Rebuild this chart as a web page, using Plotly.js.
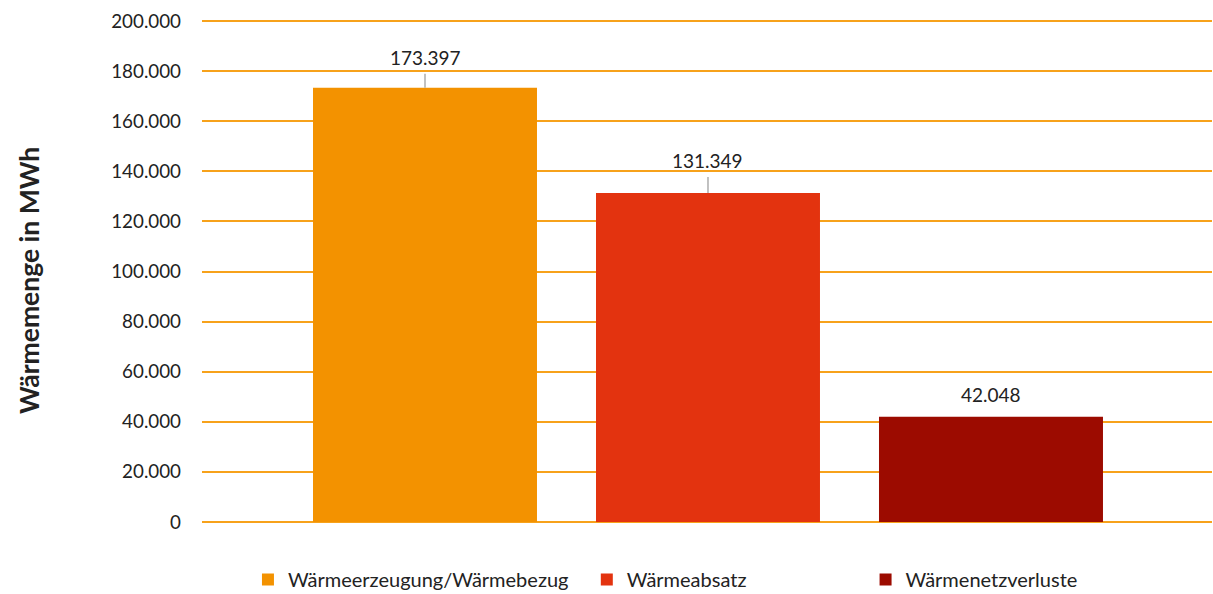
<!DOCTYPE html>
<html>
<head>
<meta charset="utf-8">
<script src="https://cdn.plot.ly/plotly-3.0.1.min.js"></script>
<style>html,body{margin:0;padding:0;background:#fff;}#chart{width:1213px;height:594px;}</style>
</head>
<body>
<div id="chart"></div>
<script>
// ---- data ----
var categories = ["Wärmeerzeugung/Wärmebezug", "Wärmeabsatz", "Wärmenetzverluste"];
var values = [173397, 131349, 42048];
var yTickValues = [0, 20000, 40000, 60000, 80000, 100000, 120000, 140000, 160000, 180000, 200000];
var yAxisTitle = "Wärmemenge in MWh";

// ---- style ----
var colors = ["#F39200", "#E3330F", "#9C0B00"];
var labelShift = [30, 32, 22];      // px above bar top
var labelLeader = [true, true, false];
var legendIds = ["legend", "legend2", "legend3"];
var legendX = [0.0455, 0.381, 0.657];
var FONT = "Lato, 'Open Sans', sans-serif";
var GRID = "#F7A21B";

function fmt(v) {
  var s = Math.round(v).toString();
  return s.replace(/\B(?=(\d{3})+(?!\d))/g, ".");
}

var traces = categories.map(function (c, i) {
  return {
    type: "bar",
    name: c,
    x: [c],
    y: [values[i]],
    width: 0.7915,
    legend: legendIds[i],
    marker: { color: colors[i], line: { width: 0 } },
    hoverinfo: "name+y"
  };
});

var annotations = categories.map(function (c, i) {
  var a = {
    x: c, y: values[i], xref: "x", yref: "y",
    text: fmt(values[i]),
    font: { family: FONT, size: 19, color: "#222" }
  };
  if (labelLeader[i]) {
    a.showarrow = true; a.arrowhead = 0; a.arrowwidth = 1.3; a.arrowcolor = "#a0a0a0";
    a.ax = 0; a.ay = -labelShift[i]; a.standoff = 0; a.borderpad = 4;
  } else {
    a.showarrow = false; a.yanchor = "middle"; a.yshift = labelShift[i];
  }
  return a;
});

annotations.push({
  xref: "paper", yref: "paper",
  x: -173 / 1010, y: 0.5 - 9.5 / 505,
  xanchor: "center", yanchor: "middle",
  textangle: -90, showarrow: false,
  text: "<b>" + yAxisTitle + "</b>",
  font: { family: FONT, size: 26.5, color: "#222" }
});

var layout = {
  width: 1213, height: 594,
  margin: { l: 202, r: 1, t: 19, b: 70, autoexpand: false },
  paper_bgcolor: "#fff", plot_bgcolor: "#fff",
  barmode: "overlay",
  showlegend: true,
  font: { family: FONT, size: 19, color: "#222" },
  xaxis: {
    type: "category",
    range: [-0.788, 2.781],
    showticklabels: false, showgrid: false, zeroline: false, showline: false, ticks: ""
  },
  yaxis: {
    range: [-798.4, 200798.4],
    tickmode: "array",
    tickvals: yTickValues,
    ticktext: yTickValues.map(fmt),
    showgrid: true, gridcolor: GRID, gridwidth: 2,
    zeroline: false, showline: false, ticks: "",
    ticklabelstandoff: 20,
    tickfont: { family: FONT, size: 18.8, color: "#222" },
    automargin: false
  },
  annotations: annotations
};

legendIds.forEach(function (id, i) {
  layout[id] = {
    orientation: "h", x: legendX[i], xanchor: "left", y: -(561 - 525) / 505, yanchor: "top",
    font: { family: FONT, size: 20, color: "#222" },
    itemwidth: 30, traceorder: "normal", bgcolor: "rgba(0,0,0,0)"
  };
});

Plotly.newPlot("chart", traces, layout, { displayModeBar: false, staticPlot: true });
</script>
</body>
</html>
